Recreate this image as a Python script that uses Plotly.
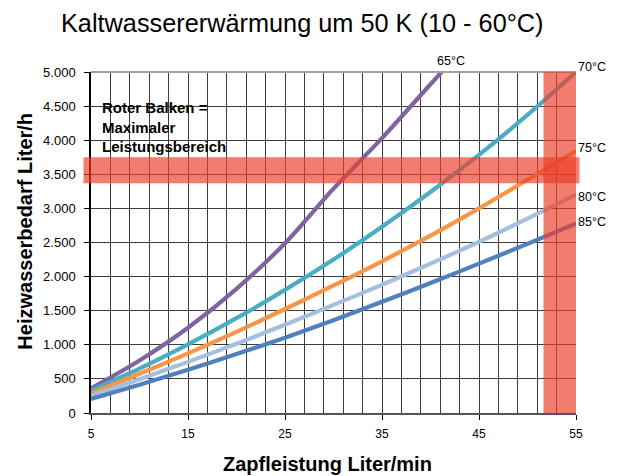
import plotly.graph_objects as go
import numpy as np

# ---- data ----
zapf = [5, 10, 15, 20, 25, 30, 35, 40, 45, 50, 55]          # Liter/min
t65 = [360, 770, 1250, 1820, 2490, 3290, 4030, 4820, 5600, 6380, 7160]
t70 = [330, 650, 1005, 1390, 1805, 2250, 2730, 3240, 3785, 4370, 5000]
t75 = [285, 575, 875, 1190, 1525, 1870, 2225, 2600, 3000, 3420, 3840]
t80 = [250, 495, 750, 1015, 1295, 1585, 1880, 2190, 2510, 2850, 3200]
t85 = [205, 415, 635, 865, 1105, 1360, 1630, 1905, 2190, 2480, 2780]
series_names = ["65°C", "70°C", "75°C", "80°C", "85°C"]
series_vals = [t65, t70, t75, t80, t85]
colors = ["#8064A2", "#4BACC6", "#F79646", "#A7BFDF", "#4F81BD"]

x_ticks = [5, 15, 25, 35, 45, 55]
h_band = (3370, 3750)      # Liter/h range of horizontal red bar
v_band = (51.65, 55)       # Liter/min range of vertical red bar

OFF = 8  # page body margin
W, H = 622 - OFF, 476 - OFF
ML, MT = 90.5 - OFF, 71.7 - OFF
MR = W - (576.5 - OFF)
MB = H - (413.3 - OFF)
PW, PH = W - ML - MR, H - MT - MB

def px_x(px):
    return (px - OFF - ML) / PW

def px_y(py):
    return (H - MB - (py - OFF)) / PH

FONT = "Arial, Liberation Sans, sans-serif"

fig = go.Figure()
for name, vals, col in zip(series_names, series_vals, colors):
    fig.add_trace(go.Scatter(x=zapf, y=vals, mode="lines", name=name,
                             line=dict(color=col, width=4.2, shape="spline", smoothing=0.8),
                             showlegend=False, hoverinfo="skip"))

grid_col = "#3c3c3c"
fig.update_layout(
    width=W, height=H,
    margin=dict(l=ML, r=MR, t=MT, b=MB, pad=0),
    paper_bgcolor="white", plot_bgcolor="white",
    separators=",.",
    font=dict(family=FONT, color="black"),
    xaxis=dict(range=[5, 55], tickvals=x_ticks, ticks="outside", ticklen=5,
               tickcolor="black", tickfont=dict(size=12), showgrid=True,
               gridcolor=grid_col, gridwidth=1,
               minor=dict(dtick=2, tick0=5, showgrid=True, gridcolor=grid_col, gridwidth=1),
               showline=True, linecolor="#555555", linewidth=2,
               zeroline=False, ticklabelstandoff=4),
    yaxis=dict(range=[0, 5000], dtick=500, tick0=0, tickformat=",d",
               ticks="outside", ticklen=5, tickcolor="black",
               tickfont=dict(size=13), showgrid=True, gridcolor=grid_col,
               gridwidth=1, showline=True, linecolor="black", linewidth=1.5,
               zeroline=False, ticklabelstandoff=6),
)

# top border
fig.add_shape(type="line", xref="paper", yref="paper", x0=0, x1=1, y0=1, y1=1,
              line=dict(color="#A0A0A0", width=2), layer="above")

# red bars
bar_fill = "rgba(236,62,42,0.68)"
fig.add_shape(type="rect", xref="paper", yref="y", x0=px_x(83), x1=px_x(580),
              y0=h_band[0], y1=h_band[1], fillcolor=bar_fill, line_width=0, layer="above")
fig.add_shape(type="rect", xref="x", yref="paper", x0=v_band[0], x1=v_band[1],
              y0=0, y1=1, fillcolor=bar_fill, line_width=0, layer="above")

# series labels
label_shift = {"70°C": 5, "75°C": 3, "80°C": -2, "85°C": 1}
for name, vals in zip(series_names, series_vals):
    if name == "65°C":
        xs = float(np.interp(5000, vals, zapf))
        fig.add_annotation(x=xs, y=5000, xref="x", yref="y", text=name, showarrow=False,
                           xanchor="center", yanchor="middle", xshift=9, yshift=11,
                           font=dict(size=12.5, family=FONT))
    else:
        fig.add_annotation(x=zapf[-1], y=vals[-1], xref="x", yref="y", text=name,
                           showarrow=False, xanchor="left", yanchor="middle",
                           xshift=0, yshift=label_shift[name],
                           font=dict(size=12.5, family=FONT))

# titles
fig.add_annotation(x=px_x(302), y=px_y(23), xref="paper", yref="paper",
                   text="Kaltwassererwärmung um 50 K (10 - 60°C)", showarrow=False,
                   xanchor="center", yanchor="middle", font=dict(size=25.3, family=FONT))
fig.add_annotation(x=px_x(24), y=px_y(231), xref="paper", yref="paper",
                   text="<b>Heizwasserbedarf Liter/h</b>", showarrow=False, textangle=-90,
                   xanchor="center", yanchor="middle", font=dict(size=20, family=FONT))
fig.add_annotation(x=px_x(327.5), y=px_y(464), xref="paper", yref="paper",
                   text="<b>Zapfleistung Liter/min</b>", showarrow=False,
                   xanchor="center", yanchor="middle", font=dict(size=20, family=FONT))
fig.add_annotation(x=px_x(100), y=px_y(97), xref="paper", yref="paper",
                   text="<b>Roter Balken =<br>Maximaler<br>Leistungsbereich</b>",
                   showarrow=False, xanchor="left", yanchor="top", align="left",
                   font=dict(size=15, family=FONT))

fig.write_html("out.html")
